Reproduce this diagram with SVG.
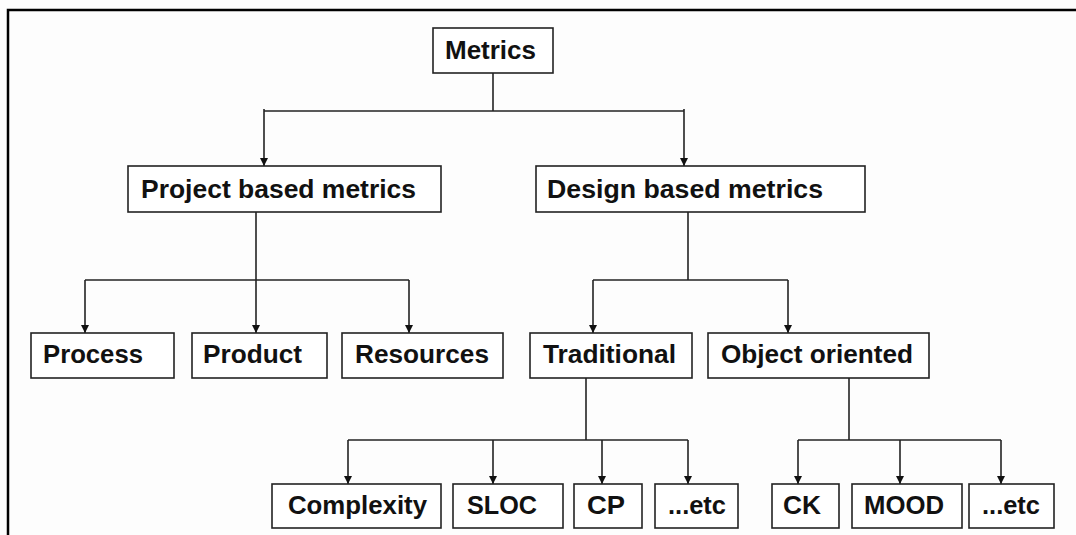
<svg xmlns="http://www.w3.org/2000/svg" width="1076" height="535" viewBox="0 0 1076 535">
  <defs>
    <marker id="arrow" viewBox="0 0 8 10" refX="8" refY="5" markerWidth="8" markerHeight="10" markerUnits="userSpaceOnUse" orient="auto">
      <path d="M0,1 L8,5 L0,9 Z" fill="#111"/>
    </marker>
    <style>
      .box { fill: #ffffff; stroke: #222; stroke-width: 1.6; }
      .lbl { font-family: "Liberation Sans", Arial, sans-serif; font-weight: bold; font-size: 25.5px; fill: #111; }
      .wire { fill: none; stroke: #222; stroke-width: 1.6; }
      .frame { fill: none; stroke: #000; stroke-width: 2.5; }
    </style>
  </defs>

  <rect width="1076" height="535" fill="#fdfdfd"/>
  <!-- page frame: top and left edges -->
  <path class="frame" d="M8,535 L8,10 L1076,10"/>

  <g id="connectors">
    <!-- Metrics to level 1 -->
    <path class="wire" d="M493,73 L493,111"/>
    <path class="wire" d="M264,111 L684,111"/>
    <path class="wire" d="M264,109 L264,166" marker-end="url(#arrow)"/>
    <path class="wire" d="M684,109 L684,166" marker-end="url(#arrow)"/>
    <!-- Project based metrics to level 2 -->
    <path class="wire" d="M256,212 L256,280"/>
    <path class="wire" d="M85,280 L409,280"/>
    <path class="wire" d="M85,280 L85,333" marker-end="url(#arrow)"/>
    <path class="wire" d="M256,280 L256,333" marker-end="url(#arrow)"/>
    <path class="wire" d="M409,280 L409,333" marker-end="url(#arrow)"/>
    <!-- Design based metrics to level 2 -->
    <path class="wire" d="M688,212 L688,280"/>
    <path class="wire" d="M593,280 L788,280"/>
    <path class="wire" d="M593,280 L593,333" marker-end="url(#arrow)"/>
    <path class="wire" d="M788,280 L788,333" marker-end="url(#arrow)"/>
    <!-- Traditional to level 3 -->
    <path class="wire" d="M586,378 L586,440"/>
    <path class="wire" d="M348,440 L688,440"/>
    <path class="wire" d="M348,440 L348,484" marker-end="url(#arrow)"/>
    <path class="wire" d="M493,440 L493,484" marker-end="url(#arrow)"/>
    <path class="wire" d="M602,440 L602,484" marker-end="url(#arrow)"/>
    <path class="wire" d="M688,440 L688,484" marker-end="url(#arrow)"/>
    <!-- Object oriented to level 3 -->
    <path class="wire" d="M849,378 L849,440"/>
    <path class="wire" d="M798,440 L1001,440"/>
    <path class="wire" d="M798,440 L798,484" marker-end="url(#arrow)"/>
    <path class="wire" d="M900,440 L900,484" marker-end="url(#arrow)"/>
    <path class="wire" d="M1001,440 L1001,484" marker-end="url(#arrow)"/>
  </g>

  <g id="metrics">
    <rect class="box" x="433" y="28" width="120" height="45"/>
    <text class="lbl" x="445" y="59" textLength="91" lengthAdjust="spacingAndGlyphs">Metrics</text>
  </g>
  <g id="project-based">
    <rect class="box" x="128" y="166" width="313" height="46"/>
    <text class="lbl" x="141" y="198" textLength="275" lengthAdjust="spacingAndGlyphs">Project based metrics</text>
  </g>
  <g id="design-based">
    <rect class="box" x="536" y="166" width="329" height="46"/>
    <text class="lbl" x="547" y="198" textLength="276" lengthAdjust="spacingAndGlyphs">Design based metrics</text>
  </g>
  <g id="process">
    <rect class="box" x="31" y="333" width="143" height="45"/>
    <text class="lbl" x="43" y="363" textLength="100" lengthAdjust="spacingAndGlyphs">Process</text>
  </g>
  <g id="product">
    <rect class="box" x="192" y="333" width="135" height="45"/>
    <text class="lbl" x="203" y="363" textLength="99" lengthAdjust="spacingAndGlyphs">Product</text>
  </g>
  <g id="resources">
    <rect class="box" x="342" y="333" width="161" height="45"/>
    <text class="lbl" x="355" y="363" textLength="134" lengthAdjust="spacingAndGlyphs">Resources</text>
  </g>
  <g id="traditional">
    <rect class="box" x="530" y="333" width="162" height="45"/>
    <text class="lbl" x="543" y="363" textLength="133" lengthAdjust="spacingAndGlyphs">Traditional</text>
  </g>
  <g id="object-oriented">
    <rect class="box" x="708" y="333" width="221" height="45"/>
    <text class="lbl" x="721" y="363" textLength="192" lengthAdjust="spacingAndGlyphs">Object oriented</text>
  </g>
  <g id="complexity">
    <rect class="box" x="272" y="484" width="169" height="44"/>
    <text class="lbl" x="288" y="514" textLength="139" lengthAdjust="spacingAndGlyphs">Complexity</text>
  </g>
  <g id="sloc">
    <rect class="box" x="453" y="484" width="110" height="44"/>
    <text class="lbl" x="467" y="514" textLength="70" lengthAdjust="spacingAndGlyphs">SLOC</text>
  </g>
  <g id="cp">
    <rect class="box" x="574" y="484" width="68" height="44"/>
    <text class="lbl" x="587" y="514" textLength="38" lengthAdjust="spacingAndGlyphs">CP</text>
  </g>
  <g id="trad-etc">
    <rect class="box" x="655" y="484" width="83" height="44"/>
    <text class="lbl" x="668" y="514" textLength="58" lengthAdjust="spacingAndGlyphs">...etc</text>
  </g>
  <g id="ck">
    <rect class="box" x="772" y="484" width="67" height="44"/>
    <text class="lbl" x="783" y="514" textLength="38" lengthAdjust="spacingAndGlyphs">CK</text>
  </g>
  <g id="mood">
    <rect class="box" x="852" y="484" width="110" height="44"/>
    <text class="lbl" x="864" y="514" textLength="80" lengthAdjust="spacingAndGlyphs">MOOD</text>
  </g>
  <g id="oo-etc">
    <rect class="box" x="969" y="484" width="85" height="44"/>
    <text class="lbl" x="982" y="514" textLength="58" lengthAdjust="spacingAndGlyphs">...etc</text>
  </g>
</svg>
